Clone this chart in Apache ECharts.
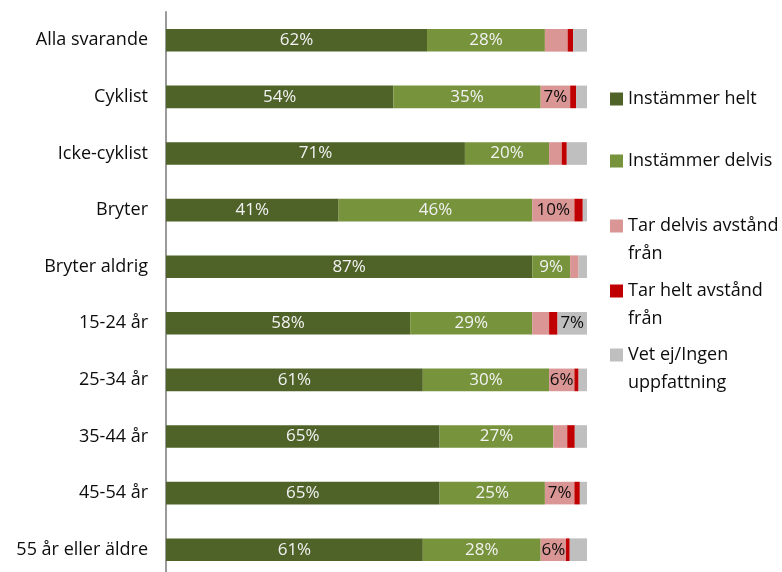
<!DOCTYPE html>
<html>
<head>
<meta charset="utf-8">
<script src="https://cdn.jsdelivr.net/npm/echarts@6/dist/echarts.min.js"></script>
<style>
  html, body { margin: 0; padding: 0; background: #ffffff; overflow: hidden; }
  #chart { width: 782px; height: 580px; }
</style>
</head>
<body>
<div id="chart"></div>
<script>
// Groups, top to bottom
const categories = [
  'Alla svarande', 'Cyklist', 'Icke-cyklist', 'Bryter', 'Bryter aldrig',
  '15-24 år', '25-34 år', '35-44 år', '45-54 år', '55 år eller äldre'
];

// Share of answers per group (%)
const instammerHelt   = [62, 54, 71, 41, 87, 58, 61, 65, 65, 61];
const instammerDelvis = [28, 35, 20, 46, 9, 29, 30, 27, 25, 28];
const tarDelvis       = [5.4, 7, 3, 10, 2, 4, 6, 3.3, 7, 6];
const tarHelt         = [1.3, 1.4, 1.2, 2, 0, 2, 1, 1.8, 1.3, 0.9];
const vetEj           = [3.3, 2.6, 4.8, 1, 2, 7, 2, 2.9, 1.7, 4.1];

const seriesNames = [
  'Instämmer helt', 'Instämmer delvis', 'Tar delvis avstånd från',
  'Tar helt avstånd från', 'Vet ej/Ingen uppfattning'
];
const legendLines = {
  'Instämmer helt': 'Instämmer helt',
  'Instämmer delvis': 'Instämmer delvis',
  'Tar delvis avstånd från': 'Tar delvis avstånd\nfrån',
  'Tar helt avstånd från': 'Tar helt avstånd\nfrån',
  'Vet ej/Ingen uppfattning': 'Vet ej/Ingen\nuppfattning'
};
const colors = ['#4F6228', '#77933C', '#D99694', '#C00000', '#BFBFBF'];
const labelColors = ['#F2F2F2', '#F2F2F2', '#0d0d0d', '#0d0d0d', '#0d0d0d'];
const values = [instammerHelt, instammerDelvis, tarDelvis, tarHelt, vetEj];

const FONT = '"Open Sans", "Noto Sans", sans-serif';

const series = seriesNames.map((name, i) => ({
  name: name,
  type: 'bar',
  stack: 'total',
  barCategoryGap: '60%',
  data: values[i],
  itemStyle: { color: colors[i] },
  label: {
    show: true,
    position: 'inside',
    color: labelColors[i],
    fontFamily: FONT,
    fontSize: 17,
    formatter: p => (p.value >= 6 ? Math.round(p.value) + '%' : '')
  },
  emphasis: { disabled: true }
}));

// One legend block per entry so each line sits at its own height;
// two-line entries get a tall icon box with the square at its top
const legendTops = [80, 142, 207, 272, 336];
const legends = seriesNames.map((name, i) => {
  const twoLine = legendLines[name].indexOf('\n') >= 0;
  return {
    data: [name],
    left: 605,
    top: legendTops[i],
    orient: 'vertical',
    itemWidth: 13,
    itemHeight: twoLine ? 41 : 13,
    icon: twoLine ? 'path://M0,0H13V13H0Z M0,41L0.001,41Z' : 'rect',
    itemGap: 0,
    formatter: n => legendLines[n],
    textStyle: {
      fontFamily: FONT,
      fontSize: 18,
      color: '#0d0d0d',
      lineHeight: 28
    }
  };
});

const chart = echarts.init(document.getElementById('chart'), null, { renderer: 'canvas' });
chart.setOption({
  animation: false,
  color: colors,
  grid: { left: 166, top: 12, width: 421, height: 566 },
  xAxis: {
    type: 'value',
    min: 0,
    max: 100,
    show: false
  },
  yAxis: {
    type: 'category',
    inverse: true,
    data: categories,
    axisLine: { show: true, lineStyle: { color: '#9a9a9a', width: 2 } },
    axisTick: { show: false },
    axisLabel: {
      fontFamily: FONT,
      fontSize: 18,
      color: '#0d0d0d',
      margin: 18
    }
  },
  legend: legends,
  series: series
});
</script>
</body>
</html>
